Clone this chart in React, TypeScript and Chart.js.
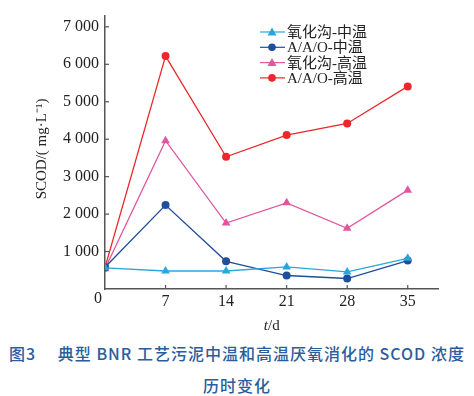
import React, { useEffect, useRef } from "react";
import { Chart, registerables } from "chart.js";

Chart.register(...registerables);

const days = [0, 7, 14, 21, 28, 35];
const xTicks = [0, 7, 14, 21, 28, 35];
const yTicks = [1000, 2000, 3000, 4000, 5000, 6000, 7000];

const oxMeso = [565, 480, 480, 590, 455, 820];
const aaoMeso = [580, 2240, 740, 360, 280, 760];
const oxThermo = [540, 3960, 1760, 2300, 1620, 2640];
const aaoThermo = [570, 6220, 3530, 4110, 4420, 5410];

const seriesNames = ["氧化沟-中温", "A/A/O-中温", "氧化沟-高温", "A/A/O-高温"];
const colors = ["#2ba6dd", "#1f4f98", "#e0569f", "#e8282d"];
const markers = ["triangle", "circle", "triangle", "circle"];

const SERIF = "'Liberation Serif', 'Times New Roman', serif";

const fmt = (v: number) => {
  const s = String(Math.round(v));
  return s.length > 3 ? s.slice(0, s.length - 3) + " " + s.slice(-3) : s;
};

const decor = {
  id: "decor",
  afterDraw(chart: any) {
    const ctx = chart.ctx;
    const { left, bottom } = chart.chartArea;
    const xs = chart.scales.x;
    const ys = chart.scales.y;
    ctx.save();
    ctx.strokeStyle = "#555";
    ctx.lineWidth = 1.2;
    ys.ticks.forEach((t: any) => {
      const y = ys.getPixelForValue(t.value);
      ctx.beginPath();
      ctx.moveTo(left, y);
      ctx.lineTo(left + 4, y);
      ctx.stroke();
    });
    xs.ticks.forEach((t: any) => {
      if (t.value === 0) return;
      const x = xs.getPixelForValue(t.value);
      ctx.beginPath();
      ctx.moveTo(x, bottom);
      ctx.lineTo(x, bottom - 4);
      ctx.stroke();
    });
    // origin label
    ctx.fillStyle = "#222";
    ctx.font = `16px ${SERIF}`;
    ctx.textAlign = "center";
    ctx.textBaseline = "middle";
    ctx.fillText("0", left - 7, bottom + 10);
    // x title
    ctx.font = `italic 15px ${SERIF}`;
    ctx.textAlign = "right";
    ctx.fillText("t", 268, 326);
    ctx.font = `15px ${SERIF}`;
    ctx.textAlign = "left";
    ctx.fillText("/d", 268, 326);
    // y title
    ctx.save();
    ctx.translate(42, 149);
    ctx.rotate(-Math.PI / 2);
    ctx.textAlign = "center";
    ctx.font = `15px ${SERIF}`;
    ctx.fillText("SCOD/( mg·L⁻¹)", 0, 0);
    ctx.restore();
    // legend
    chart.data.datasets.forEach((ds: any, i: number) => {
      const y = 32 + i * 15.3;
      ctx.strokeStyle = ds.borderColor;
      ctx.lineWidth = 1.2;
      ctx.beginPath();
      ctx.moveTo(260, y);
      ctx.lineTo(285, y);
      ctx.stroke();
      ctx.fillStyle = ds.backgroundColor;
      ctx.beginPath();
      if (ds.pointStyle === "triangle") {
        ctx.moveTo(272, y - 4.5);
        ctx.lineTo(276.5, y + 3.5);
        ctx.lineTo(267.5, y + 3.5);
        ctx.closePath();
      } else {
        ctx.arc(272, y, 3.8, 0, Math.PI * 2);
      }
      ctx.fill();
      ctx.fillStyle = "#222";
      ctx.font = `15px ${SERIF}, 'Noto Sans CJK SC'`;
      ctx.textAlign = "left";
      ctx.textBaseline = "middle";
      ctx.fillText(ds.label, 287, y + 1);
    });
    ctx.restore();
  },
};

export default function App() {
  const ref = useRef<HTMLCanvasElement>(null);
  useEffect(() => {
    document.body.style.margin = "0";
    const series = [oxMeso, aaoMeso, oxThermo, aaoThermo];
    const chart = new Chart(ref.current as HTMLCanvasElement, {
      type: "line",
      data: {
        datasets: series.map((vals, i) => ({
          label: seriesNames[i],
          data: days.map((d, j) => ({ x: d, y: vals[j] })),
          borderColor: colors[i],
          backgroundColor: colors[i],
          pointStyle: markers[i] as any,
          pointRadius: markers[i] === "triangle" ? 5 : 4,
          pointBorderWidth: 0,
          borderWidth: 1.3,
          tension: 0,
        })),
      },
      options: {
        responsive: false,
        animation: false,
        layout: { padding: { top: 7, right: 36, left: 0, bottom: 0 } },
        plugins: { legend: { display: false }, tooltip: { enabled: false } },
        scales: {
          x: {
            type: "linear",
            min: 0,
            max: 38.5,
            afterBuildTicks: (s: any) => {
              s.ticks = xTicks.map((v) => ({ value: v }));
            },
            afterFit: (s: any) => {
              s.height = 46;
            },
            ticks: {
              padding: 3,
              color: "#222",
              font: { family: SERIF, size: 16 },
              callback: (v: any) => (v === 0 ? "" : String(v)),
            },
            grid: { display: true, drawOnChartArea: false, drawTicks: false },
            border: { color: "#555", width: 1.5 },
          },
          y: {
            type: "linear",
            min: 0,
            max: 7300,
            afterBuildTicks: (s: any) => {
              s.ticks = yTicks.map((v) => ({ value: v }));
            },
            afterFit: (s: any) => {
              s.width = 105;
            },
            ticks: {
              padding: 6,
              color: "#222",
              font: { family: SERIF, size: 16 },
              callback: (v: any) => fmt(Number(v)),
            },
            grid: { display: true, drawOnChartArea: false, drawTicks: false },
            border: { color: "#555", width: 1.5 },
          },
        },
      },
      plugins: [decor],
    });
    return () => chart.destroy();
  }, []);
  return (
    <div style={{ position: "absolute", left: 0, top: 0, width: 474, height: 396, background: "#fff" }}>
      <canvas ref={ref} width={474} height={335} style={{ display: "block", width: 474, height: 335 }} />
      <div
        style={{
          position: "absolute",
          top: 337,
          left: 0,
          width: 474,
          textAlign: "center",
          fontFamily: "'Noto Sans CJK SC', 'Noto Sans', sans-serif",
          fontWeight: 500,
          fontSize: 16,
          lineHeight: "32px",
          color: "#2b5d9c",
          letterSpacing: "1px",
          whiteSpace: "pre",
        }}
      >
        {"图3　 典型 BNR 工艺污泥中温和高温厌氧消化的 SCOD 浓度"}
        <br />
        历时变化
      </div>
    </div>
  );
}
